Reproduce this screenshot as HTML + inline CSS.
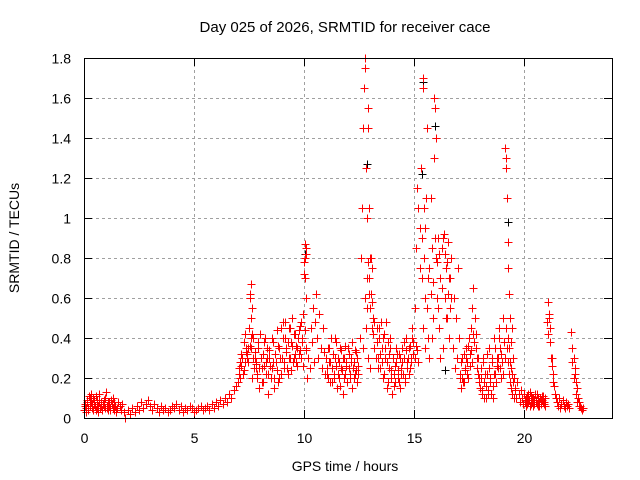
<!DOCTYPE html>
<html><head><meta charset="utf-8"><style>
body{margin:0;background:#fff;}
svg{display:block;font-family:"Liberation Sans",sans-serif;}
</style></head><body>
<svg id="chart" width="640" height="480" xmlns="http://www.w3.org/2000/svg">
<text x="345" y="32" font-size="15" text-anchor="middle">Day 025 of 2026, SRMTID for receiver cace</text>
<text x="345" y="471" font-size="14" text-anchor="middle">GPS time / hours</text>
<text transform="translate(19,238) rotate(-90)" font-size="14" text-anchor="middle">SRMTID / TECUs</text>
<g id="grid"></g>
<g id="ticks"></g>
<g id="marksBlack" stroke="#000" stroke-width="1"></g>
<g id="marksRed" stroke="#ff0000" stroke-width="1"></g>
<rect x="84.5" y="58.5" width="528" height="360" fill="none" stroke="#000"/>
</svg>
<script>
const xTicks=[0,5,10,15,20];
const yTicks=[0,0.2,0.4,0.6,0.8,1,1.2,1.4,1.6,1.8];
const yTickLabels=["0","0.2","0.4","0.6","0.8","1","1.2","1.4","1.6","1.8"];
const segStart=[0.0,1.5,2.0,5.5,7.0,7.5,7.8,9.0,10.0,10.1,11.0,13.3,14.2,16.65,17.1,17.6,18.0,19.6,21.5];
const segStep=[0.05,0.06,0.1,0.1,0.05,0.05,0.05,0.05,0.025,0.05,0.05,0.05,0.05,0.05,0.05,0.05,0.05,0.05,0.05];
const segValues=[
[.04,.06,.03,.08,.05,.10,.12,.07,.04,.09,.06,.11,.05,.03,.08,.06,.04,.07,.09,.05,.13,.06,.04,.08,.05,.07,.10,.04,.06,.03],
[.05,.08,.06,.04,.07,.03,0.0],
[.04,.02,.05,.03,.06,.04,.08,.05,.07,.09,.06,.04,.07,.05,.03,.06,.04,.05,.03,.04,.06,.05,.07,.04,.06,.03,.05,.04,.06,.05,.03,.04,.05,.06,.04],
[.05,.06,.04,.07,.05,.08,.06,.09,.07,.10,.08,.12,.10,.14,.16],
[.18,.22,.20,.26,.30,.24,.28,.33,.30,.35],
[.45,.60,.67,.55,.40,.30,.25],
[.28,.20,.35,.15,.42,.30,.25,.18,.38,.22,.30,.12,.34,.26,.20,.40,.28,.15,.32,.24,.36,.20,.30,.45],
[.30,.48,.25,.40,.35,.22,.45,.30,.38,.50,.28,.42,.32,.36,.26,.44,.34,.48,.40,.52],
[.72,.80,.87,.85,.60],
[.35,.20,.30,.25,.45,.38,.55,.28,.48,.62,.40,.30,.52,.35,.25,.45,.33,.22],
[.30,.25,.20,.35,.28,.18,.32,.22,.40,.26,.15,.30,.20,.35,.25,.12,.30,.22,.28,.18,.35,.25,.20,.30,.15,.28,.22,.33,.18,.26],
[.45,.30,.40,.25,.48,.35,.20,.42,.30,.15,.38,.25,.35,.20,.12,.30,.22,.18],
[.28,.20,.32,.15,.25,.35,.22,.30,.18,.40,.28,.35,.25,.30,.45,.38],
[.70,.80,.35,.60,.25,.50,.30,.75,.40,.20],
[.22,.15,.30,.18,.25,.35,.28,.20,.40,.32],
[.45,.55,.65,.50,.35,.25,.30,.20],
[.15,.25,.12,.30,.18,.10,.22,.14,.35,.20,.12,.28,.16,.40,.22,.30,.25,.45,.35,.20,.28,.50],
[.15,.10,.18,.12,.08,.14,.10,.07,.12,.09,.06,.11,.08,.13,.07,.10,.06,.09,.12,.08,.07,.10,.06,.09,.11,.08,.07,.10],
[.08,.06,.10,.05,.07,.09,.06,.05,.08,.06,.07,.05]
];
// second pass of samples (interleaved times) in the dense regions
const seg2Start=[0.025,7.025,8.525,11.025,13.325,14.225,17.125,18.025,20.025];
const seg2Step=[0.05,0.05,0.05,0.05,0.05,0.05,0.05,0.05,0.05];
const seg2Values=[
[.07,.05,.09,.04,.11,.06,.08,.05,.10,.07,.04,.09,.06,.12,.05,.08,.04,.07,.06,.10,.05,.08,.06,.04,.09,.07,.05,.08,.06,.04],
[.25,.28,.32,.30,.22,.38,.42,.35,.32,.28,.36,.40,.20,.30,.25,.33,.27,.22,.38,.25,.30,.18,.32,.26,.40,.28,.35,.22,.30],
[.25,.38,.20,.32,.28,.44,.18,.35,.30,.22,.40,.28,.48,.33,.25,.38,.30,.45,.24,.36,.30,.42,.28,.35,.40,.32,.46,.30,.38,.26,.44,.34],
[.22,.35,.28,.18,.40,.25,.32,.20,.30,.38,.22,.28,.16,.34,.24,.30,.20,.36,.26,.18,.32,.22,.28,.38,.25,.20,.34,.24,.30,.22],
[.38,.25,.45,.32,.28,.40,.22,.35,.48,.28,.18,.32,.40,.24,.30,.16,.26,.35],
[.32,.24,.18,.30,.22,.28,.38,.20,.34,.25,.30,.22,.36,.28,.40,.32,.30,.36,.34,.28],
[.28,.20,.18,.32,.24,.30,.22,.36,.26,.34,.28,.42,.38,.50,.42,.30,.22,.18],
[.20,.14,.28,.10,.22,.16,.32,.12,.25,.18,.30,.10,.22,.35,.18,.26,.30,.40,.25,.32,.22,.38,.30,.45,.35,.28,.22,.18,.15,.12,.10,.14],
[.08,.10,.07,.12,.09,.06,.11,.08,.10,.07,.09,.12,.06,.08,.10,.07,.09,.11,.08,.06]
];
const spikePoints=[
[12.55,.4],[12.6,.8],[12.65,1.05],[12.7,1.45],[12.72,1.65],[12.75,1.8],[12.78,1.75],[12.8,1.25],[12.85,1.0],[12.85,.55],[12.9,1.55],[12.92,1.45],[12.95,1.05],[12.95,.7],[13.0,.8],[13.05,.62],[13.1,.75],[13.1,.45],[13.15,.5],[13.2,.35],[12.9,.3],[13.0,.25],
[12.75,.6],[12.8,.45],[12.85,.7],[12.9,.78],[12.95,.62],[13.0,.55],[13.05,.8],[13.1,.58],[12.7,.35],[13.15,.42],[13.2,.48],[13.25,.3],
[15.05,.55],[15.1,.85],[15.15,1.15],[15.2,1.05],[15.25,.95],[15.3,1.25],[15.35,.7],[15.4,1.7],[15.42,1.65],[15.45,1.05],[15.5,.95],[15.5,.6],[15.55,1.1],[15.6,1.45],[15.4,.45],[15.5,.35],
[15.65,.4],[15.7,.75],[15.75,1.1],[15.8,.85],[15.85,.5],[15.9,1.6],[15.95,1.55],[16.0,.8],[16.05,.6],[16.1,.9],[16.15,.45],[16.2,.7],[16.25,.85],[16.3,.35],[16.35,.92],[16.4,.6],[16.45,.75],[16.5,.5],[16.55,.88],[16.6,.4],[15.7,.3],[15.9,1.3],[16.0,1.4],[16.2,.3],
[15.6,.55],[15.65,.7],[15.75,.62],[15.8,.4],[15.85,.68],[15.95,.9],[16.05,.78],[16.1,.55],[16.15,.82],[16.25,.65],[16.3,.9],[16.4,.82],[16.45,.5],[16.5,.78],[16.55,.62],[16.6,.7],[16.65,.55],[16.7,.6],[15.25,.75],[15.35,.9],[15.45,.8],
[19.15,1.35],[19.17,1.3],[19.2,1.25],[19.22,1.1],[19.25,.88],[19.28,.75],[19.3,.62],[19.35,.5],[19.4,.38],[19.45,.45],[19.5,.3],[19.55,.2],
[19.3,.35],[19.35,.28],[19.4,.25],[19.45,.22],[19.5,.18],[19.25,.4],
[21.05,.48],[21.1,.58],[21.15,.5],[21.2,.38],[21.25,.3],[21.3,.22],[21.35,.16],[21.4,.12],[21.45,.1],
[21.08,.42],[21.12,.52],[21.18,.45],[21.22,.3],[21.28,.26],[21.33,.18],
[22.15,.43],[22.2,.35],[22.25,.3],[22.3,.22],[22.35,.18],[22.4,.15],[22.45,.1],[22.5,.08],[22.55,.06],[22.6,.05],[22.65,.04],[22.7,.05],
[22.2,.28],[22.28,.2],[22.33,.25],[22.38,.12],[22.43,.08],[22.48,.06],
[7.55,.62],[7.6,.5],[7.65,.42],[7.58,.35],[10.0,.78],[10.05,.7],[10.08,.82]
];
const blackPoints=[[12.72,1.65],[12.85,1.27],[12.9,1.45],[15.4,1.68],[15.35,1.22],[15.95,1.46],[19.25,0.98],[10.05,0.82],[19.2,0.45],[16.4,0.24]];

const X0=84,X1=612,Y0=418,Y1=58;
function xs(h){return X0+(h/24)*(X1-X0);}
function ys(v){return Y0-(v/1.8)*(Y0-Y1);}
const NS="http://www.w3.org/2000/svg";
const grid=document.getElementById('grid'),ticks=document.getElementById('ticks');
yTicks.forEach((v,i)=>{
  const y=Math.round(ys(v))+0.5;
  if(i>0&&i<yTicks.length-1){const l=document.createElementNS(NS,'line');
    
    
    l.setAttribute('x1',X0);l.setAttribute('x2',X1);l.setAttribute('y1',y);l.setAttribute('y2',y);
    l.setAttribute('stroke','#a0a0a0');l.setAttribute('stroke-dasharray','3,3');grid.appendChild(l);}
  [[X0,X0+8],[X1-8,X1]].forEach(p=>{const t=document.createElementNS(NS,'line');
    
    
    t.setAttribute('x1',p[0]);t.setAttribute('x2',p[1]);t.setAttribute('y1',y);t.setAttribute('y2',y);t.setAttribute('stroke','#000');grid.appendChild(t);});
  const tx=document.createElementNS(NS,'text');
  
  
  tx.setAttribute('x',71);tx.setAttribute('y',y+5);tx.setAttribute('font-size','14');tx.setAttribute('text-anchor','end');
  tx.textContent=yTickLabels[i];ticks.appendChild(tx);
});
xTicks.forEach(h=>{
  const x=Math.round(xs(h))+0.5;
  if(h>0){const l=document.createElementNS(NS,'line');
    
    
    l.setAttribute('x1',x);l.setAttribute('x2',x);l.setAttribute('y1',Y1);l.setAttribute('y2',Y0);
    l.setAttribute('stroke','#a0a0a0');l.setAttribute('stroke-dasharray','3,3');grid.appendChild(l);}
  [[Y0,Y0-8],[Y1,Y1+8]].forEach(p=>{const t=document.createElementNS(NS,'line');
    
    
    t.setAttribute('x1',x);t.setAttribute('x2',x);t.setAttribute('y1',p[0]);t.setAttribute('y2',p[1]);t.setAttribute('stroke','#000');grid.appendChild(t);});
  const tx=document.createElementNS(NS,'text');
  
  
  tx.setAttribute('x',x);tx.setAttribute('y',443);tx.setAttribute('font-size','14');tx.setAttribute('text-anchor','middle');
  tx.textContent=String(h);ticks.appendChild(tx);
});
function plus(g,h,v){
  const x=Math.round(xs(h))+0.5,y=Math.round(ys(v))+0.5;
  const p=document.createElementNS(NS,'path');
  
  
  p.setAttribute('d',`M${x-4} ${y}H${x+4}M${x} ${y-4}V${y+4}`);
  g.appendChild(p);
}
const gb=document.getElementById('marksBlack'),gr=document.getElementById('marksRed');
blackPoints.forEach(p=>plus(gb,p[0],p[1]));
segValues.forEach((vals,i)=>vals.forEach((v,j)=>plus(gr,segStart[i]+j*segStep[i],v)));
seg2Values.forEach((vals,i)=>vals.forEach((v,j)=>plus(gr,seg2Start[i]+j*seg2Step[i],v)));
spikePoints.forEach(p=>plus(gr,p[0],p[1]));
</script>
</body></html>
